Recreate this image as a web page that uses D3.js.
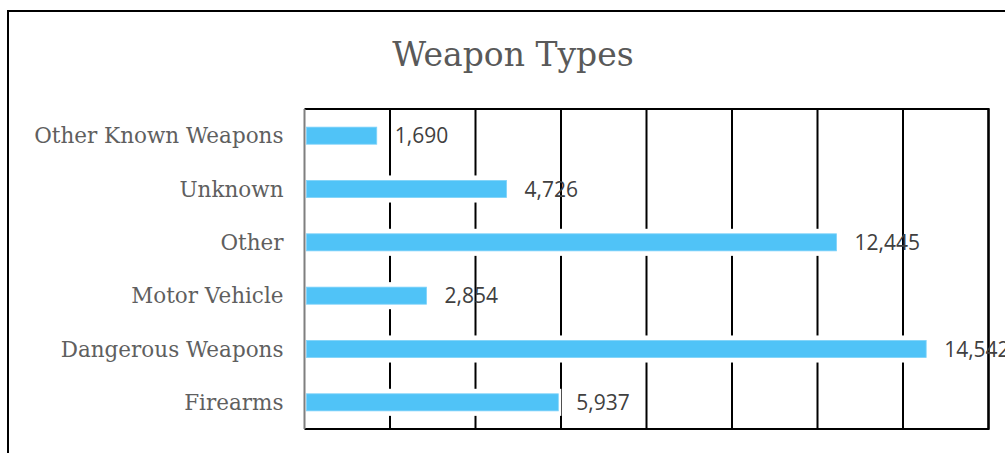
<!DOCTYPE html>
<html>
<head>
<meta charset="utf-8">
<script src="https://cdn.jsdelivr.net/npm/d3@7"></script>
<style>
  html, body { margin: 0; padding: 0; background: #fff; }
  svg { display: block; }
</style>
</head>
<body>
<svg id="chart" width="1005" height="453"></svg>
<script>
// Weapon types, listed top to bottom
const categories = ["Other Known Weapons", "Unknown", "Other", "Motor Vehicle", "Dangerous Weapons", "Firearms"];
const counts = [1690, 4726, 12445, 2854, 14542, 5937];
const xTicks = [0, 2000, 4000, 6000, 8000, 10000, 12000, 14000, 16000];
const chartTitle = "Weapon Types";

const data = categories.map((c, i) => ({ category: c, value: counts[i] }));

const svg = d3.select("#chart");
const W = 1005, H = 453;
const plot = { left: 304.5, right: 988.5, top: 109, bottom: 429 };

// Outer chart frame (runs past the right and bottom edges)
svg.append("rect")
  .attr("x", 8).attr("y", 11)
  .attr("width", W + 20).attr("height", H + 20)
  .attr("fill", "#fff")
  .attr("stroke", "#000")
  .attr("stroke-width", 2);

// Title
svg.append("text")
  .attr("x", 513).attr("y", 66)
  .attr("text-anchor", "middle")
  .attr("font-family", "'DejaVu Serif', serif")
  .attr("font-size", 33)
  .attr("fill", "#595959")
  .text(chartTitle);

const x = d3.scaleLinear()
  .domain([xTicks[0], xTicks[xTicks.length - 1]])
  .range([plot.left, plot.right]);

const y = d3.scaleBand()
  .domain(categories)
  .range([plot.top, plot.bottom])
  .paddingInner(0.68)
  .paddingOuter(0.34);

// Vertical gridlines
svg.append("g")
  .selectAll("line")
  .data(xTicks.slice(1))
  .join("line")
  .attr("x1", d => x(d)).attr("x2", d => x(d))
  .attr("y1", plot.top).attr("y2", plot.bottom)
  .attr("stroke", "#000")
  .attr("stroke-width", 2);

// White halo behind each bar, which breaks the gridlines
const halo = 5;
svg.append("g")
  .selectAll("rect")
  .data(data)
  .join("rect")
  .attr("x", x(0) + 1)
  .attr("y", d => y(d.category) - halo)
  .attr("width", d => x(d.value) - x(0) + 2)
  .attr("height", y.bandwidth() + 2 * halo)
  .attr("fill", "#fff");

// Bars
svg.append("g")
  .selectAll("rect")
  .data(data)
  .join("rect")
  .attr("x", x(0) + 2)
  .attr("y", d => y(d.category))
  .attr("width", d => x(d.value) - x(0) - 2)
  .attr("height", y.bandwidth())
  .attr("fill", "#50C3F7")
  .attr("stroke", "#7fd3f9")
  .attr("stroke-width", 0.8);

// Plot border: top, right and bottom in black
svg.append("path")
  .attr("d", `M${plot.left},${plot.top}H${plot.right}V${plot.bottom}H${plot.left}`)
  .attr("fill", "none")
  .attr("stroke", "#000")
  .attr("stroke-width", 2.2);

// Category axis line
svg.append("line")
  .attr("x1", plot.left).attr("x2", plot.left)
  .attr("y1", plot.top).attr("y2", plot.bottom)
  .attr("stroke", "#7f7f7f")
  .attr("stroke-width", 2);

// Category labels
const yAxis = d3.axisLeft(y).tickSize(0).tickPadding(21);
const gy = svg.append("g")
  .attr("transform", `translate(${plot.left},0)`)
  .call(yAxis);
gy.select(".domain").remove();
gy.selectAll("text")
  .attr("font-family", "'DejaVu Serif', serif")
  .attr("font-size", 21.5)
  .attr("fill", "#5f5f5f")
  .attr("dy", "0.36em");

// Value labels
const fmt = d3.format(",");
svg.append("g")
  .selectAll("text")
  .data(data)
  .join("text")
  .attr("x", d => x(d.value) + 18)
  .attr("y", d => y(d.category) + y.bandwidth() / 2)
  .attr("dy", "0.36em")
  .attr("font-family", "'Open Sans', sans-serif")
  .attr("font-size", 21)
  .attr("fill", "#404040")
  .text(d => fmt(d.value));
</script>
</body>
</html>
